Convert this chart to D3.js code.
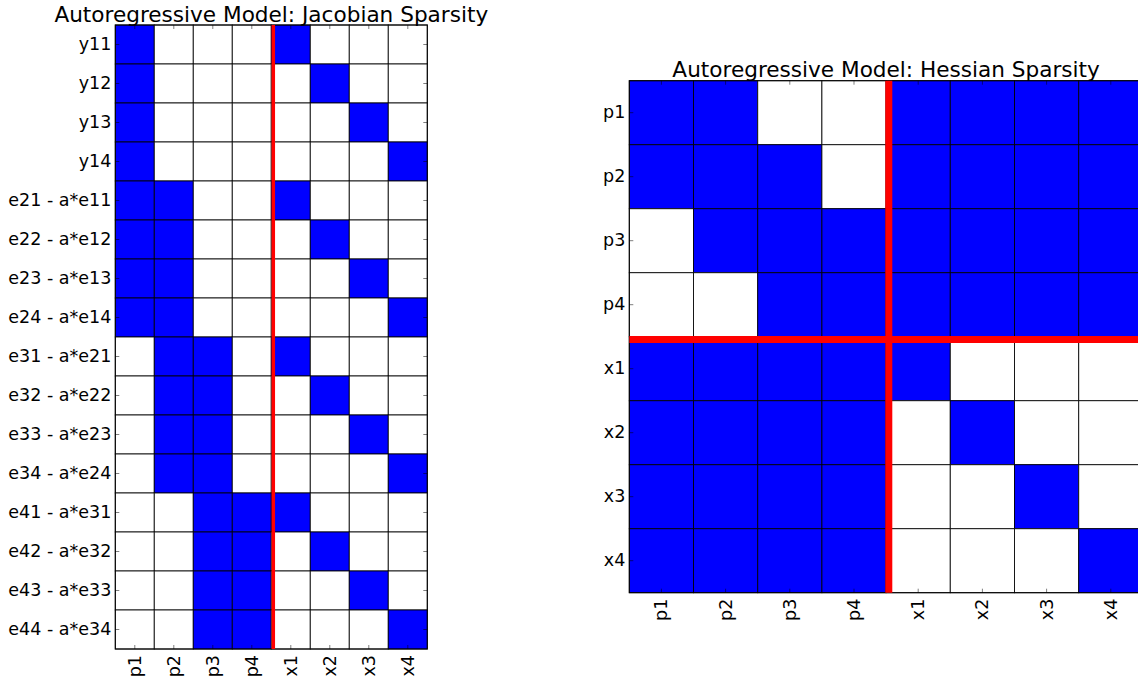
<!DOCTYPE html>
<html>
<head>
<meta charset="utf-8">
<script src="https://cdn.jsdelivr.net/npm/d3@7"></script>
<style>
	body { margin: 0; background: #fff; overflow: hidden; }
	svg { display: block; font-family: "DejaVu Sans", sans-serif; }
</style>
</head>
<body>
<div id="draw_area"></div>
<script>
// ---- data ----
var jacobianRows = ['y11', 'y12', 'y13', 'y14',
	'e21 - a*e11', 'e22 - a*e12', 'e23 - a*e13', 'e24 - a*e14',
	'e31 - a*e21', 'e32 - a*e22', 'e33 - a*e23', 'e34 - a*e24',
	'e41 - a*e31', 'e42 - a*e32', 'e43 - a*e33', 'e44 - a*e34']
var jacobianCols = ['p1', 'p2', 'p3', 'p4', 'x1', 'x2', 'x3', 'x4']
// 1 = structurally nonzero entry
var jacobianCells = [
	[1, 0, 0, 0, 1, 0, 0, 0],
	[1, 0, 0, 0, 0, 1, 0, 0],
	[1, 0, 0, 0, 0, 0, 1, 0],
	[1, 0, 0, 0, 0, 0, 0, 1],
	[1, 1, 0, 0, 1, 0, 0, 0],
	[1, 1, 0, 0, 0, 1, 0, 0],
	[1, 1, 0, 0, 0, 0, 1, 0],
	[1, 1, 0, 0, 0, 0, 0, 1],
	[0, 1, 1, 0, 1, 0, 0, 0],
	[0, 1, 1, 0, 0, 1, 0, 0],
	[0, 1, 1, 0, 0, 0, 1, 0],
	[0, 1, 1, 0, 0, 0, 0, 1],
	[0, 0, 1, 1, 1, 0, 0, 0],
	[0, 0, 1, 1, 0, 1, 0, 0],
	[0, 0, 1, 1, 0, 0, 1, 0],
	[0, 0, 1, 1, 0, 0, 0, 1]
]
var hessianLabels = ['p1', 'p2', 'p3', 'p4', 'x1', 'x2', 'x3', 'x4']
var hessianCells = [
	[1, 1, 0, 0, 1, 1, 1, 1],
	[1, 1, 1, 0, 1, 1, 1, 1],
	[0, 1, 1, 1, 1, 1, 1, 1],
	[0, 0, 1, 1, 1, 1, 1, 1],
	[1, 1, 1, 1, 1, 0, 0, 0],
	[1, 1, 1, 1, 0, 1, 0, 0],
	[1, 1, 1, 1, 0, 0, 1, 0],
	[1, 1, 1, 1, 0, 0, 0, 1]
]
var splitLabel = 'x1' // first state variable, after the parameter block

var W = 1138, H = 681

var svg = d3.select('#draw_area').append('svg')
	.attr('width', W)
	.attr('height', H)

svg.append('rect').attr('width', W).attr('height', H).attr('fill', '#fff')

function drawSparsity(o) {
	let x = d3.scaleBand().domain(o.cols).range([o.left, o.left + o.cellW * o.cols.length])
	let y = d3.scaleBand().domain(o.rows).range([o.top, o.top + o.cellH * o.rows.length])
	let g = svg.append('g')

	let cells = []
	o.cells.forEach((row, i) => row.forEach((v, j) => cells.push({ r: o.rows[i], c: o.cols[j], v: v })))

	g.selectAll('rect.cell').data(cells).enter().append('rect')
		.attr('class', 'cell')
		.attr('x', d => x(d.c))
		.attr('y', d => y(d.r))
		.attr('width', x.bandwidth())
		.attr('height', y.bandwidth())
		.attr('fill', d => d.v ? '#0000ff' : '#ffffff')
		.attr('stroke', '#000')
		.attr('stroke-opacity', 0.85)
		.attr('stroke-width', 1)

	let x0 = x.range()[0], x1 = x.range()[1], y0 = y.range()[0], y1 = y.range()[1]

	// axes, ticks pointing inward like classic matplotlib
	let ax = g.append('g').attr('transform', `translate(0,${y1})`)
		.call(d3.axisBottom(x).tickSize(-4).tickPadding(6))
	let axTop = g.append('g').attr('transform', `translate(0,${y0})`)
		.call(d3.axisTop(x).tickSize(-4).tickFormat(''))
	let ay = g.append('g').attr('transform', `translate(${x0},0)`)
		.call(d3.axisLeft(y).tickSize(-4).tickPadding(4))
	let ayRight = g.append('g').attr('transform', `translate(${x1},0)`)
		.call(d3.axisRight(y).tickSize(-4).tickFormat(''))

	;[ax, axTop, ay, ayRight].forEach(a => {
		a.attr('font-family', null).attr('font-size', null)
		a.select('.domain').remove()
		a.selectAll('.tick line').attr('stroke', '#000').attr('stroke-opacity', 0.5)
	})
	ay.selectAll('text')
		.style('font-family', '"DejaVu Sans", sans-serif')
		.style('font-size', '17.5px').attr('fill', '#000')
	ax.selectAll('text')
		.style('font-family', '"DejaVu Sans", sans-serif')
		.style('font-size', '17.5px').attr('fill', '#000')
		.attr('y', 0).attr('dy', null)
		.attr('transform', 'rotate(-90)')
		.attr('x', -6)
		.attr('text-anchor', 'end')
		.attr('dominant-baseline', 'central')

	// frame
	g.append('rect')
		.attr('x', x0).attr('y', y0)
		.attr('width', x1 - x0).attr('height', y1 - y0)
		.attr('fill', 'none')
		.attr('stroke', '#000')
		.attr('stroke-width', 1)

	// red split lines between parameters and states
	let sx = x(o.split) + o.splitOffset
	g.append('line')
		.attr('x1', sx).attr('x2', sx)
		.attr('y1', y0).attr('y2', y1)
		.attr('stroke', '#ff0000')
		.attr('stroke-width', o.splitWidth)
	if (o.hsplit) {
		let sy = y(o.split) + o.splitOffset
		g.append('line')
			.attr('x1', x0).attr('x2', x1)
			.attr('y1', sy).attr('y2', sy)
			.attr('stroke', '#ff0000')
			.attr('stroke-width', o.splitWidth)
	}

	g.append('text')
		.attr('x', (x0 + x1) / 2)
		.attr('y', o.titleY)
		.attr('text-anchor', 'middle')
		.style('font-size', '21.6px')
		.attr('fill', '#000')
		.text(o.title)
}

drawSparsity({
	rows: jacobianRows, cols: jacobianCols, cells: jacobianCells,
	left: 115.3, top: 25, cellW: 39, cellH: 39,
	split: splitLabel, splitWidth: 3.5, splitOffset: 2,
	title: 'Autoregressive Model: Jacobian Sparsity', titleY: 21.5
})

drawSparsity({
	rows: hessianLabels, cols: hessianLabels, cells: hessianCells,
	left: 629.3, top: 80.7, cellW: 64.2, cellH: 64,
	split: splitLabel, splitWidth: 7, splitOffset: 2.7, hsplit: true,
	title: 'Autoregressive Model: Hessian Sparsity', titleY: 76.7
})
</script>
</body>
</html>
